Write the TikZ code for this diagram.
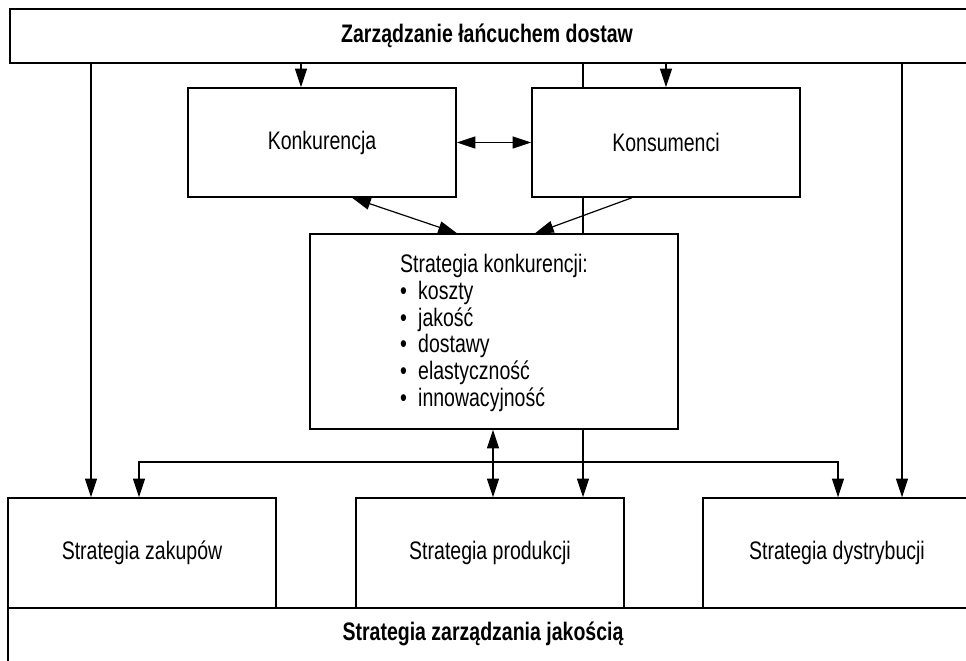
\documentclass[tikz,border=0pt]{standalone}
\usepackage{fontspec}
\setmainfont{Liberation Sans}[FakeStretch=0.77]
\usetikzlibrary{arrows.meta,backgrounds}

\newcommand\listdot{\makebox[13.5pt][l]{\textbullet}}

\tikzset{
  every node/.style={font=\fontsize{19pt}{20.1pt}\selectfont},
  block/.style={draw, line width=1.1pt, fill=white, inner sep=0pt},
  unit/.style={block, minimum width=201pt, minimum height=81.75pt},
  bar/.style={block, minimum width=735pt},
  link/.style={line width=0.9pt, -{Triangle[length=14pt,width=9pt]}},
  duallink/.style={line width=0.9pt, {Triangle[length=14pt,width=9pt]}-{Triangle[length=14pt,width=9pt]}}
}

\begin{document}
\begin{tikzpicture}[x=0.75pt,y=-0.75pt]
\useasboundingbox (0,0) rectangle (966,660);

% supply chain management bar (open to the right)
\node[bar, minimum height=40.5pt] (top) at (500,36) {};
\node[font=\fontsize{19pt}{20.1pt}\selectfont\bfseries] (toplabel) at (487,36) {Zarządzanie łańcuchem dostaw};

% environment
\node[unit] (konk) at (322,142.5) {Konkurencja};
\node[unit] (kons) at (666,142.5) {Konsumenci};

% competitive strategy
\node[block, minimum width=276pt, minimum height=146.25pt] (strat) at (494,331.5) {};
\node[align=left, inner sep=0pt] (strattxt) at (494,333) {Strategia konkurencji:\\
\listdot koszty\\
\listdot jakość\\
\listdot dostawy\\
\listdot elastyczność\\
\listdot innowacyjność};

% functional strategies
\node[unit, minimum height=82.5pt] (zak) at (142,553) {Strategia zakupów};
\node[unit, minimum height=82.5pt] (prod) at (490,553) {Strategia produkcji};
\node[unit, minimum height=82.5pt] (dys) at (837,553) {Strategia dystrybucji};

% quality management bar (open to the right and below)
\node[block, minimum width=736.5pt, minimum height=54pt] (qual) at (499,644) {};
\node[font=\fontsize{19pt}{20.1pt}\selectfont\bfseries] (quallabel) at (483,634) {Strategia zarządzania jakością};

% columns of the connectors
\coordinate (c1) at (91,0);
\coordinate (c2) at (301,0);
\coordinate (c3) at (583,0);
\coordinate (c4) at (666,0);
\coordinate (c5) at (902,0);
\coordinate (d1) at (352,0);
\coordinate (d2) at (457,0);
\coordinate (d3) at (632,0);
\coordinate (d4) at (535,0);
\coordinate (m1) at (493,0);
\coordinate (jl) at (139,462);
\coordinate (jr) at (838,462);

\begin{scope}[on background layer]
  \draw[link] (top.south -| c3) -- (prod.north -| c3);
\end{scope}

\draw[link] (top.south -| c1) -- (zak.north -| c1);
\draw[link] (top.south -| c2) -- (konk.north -| c2);
\draw[link] (top.south -| c4) -- (kons.north -| c4);
\draw[link] (top.south -| c5) -- (dys.north -| c5);

\draw[duallink] (konk.east) -- (kons.west);
\draw[duallink] (konk.south -| d1) -- (strat.north -| d2);
\draw[link] (kons.south -| d3) -- (strat.north -| d4);

\draw[duallink] (strat.south -| m1) -- (prod.north -| m1);
\draw[duallink] (zak.north -| jl) -- (jl) -- (jr) -- (dys.north -| jr);
\end{tikzpicture}
\end{document}
